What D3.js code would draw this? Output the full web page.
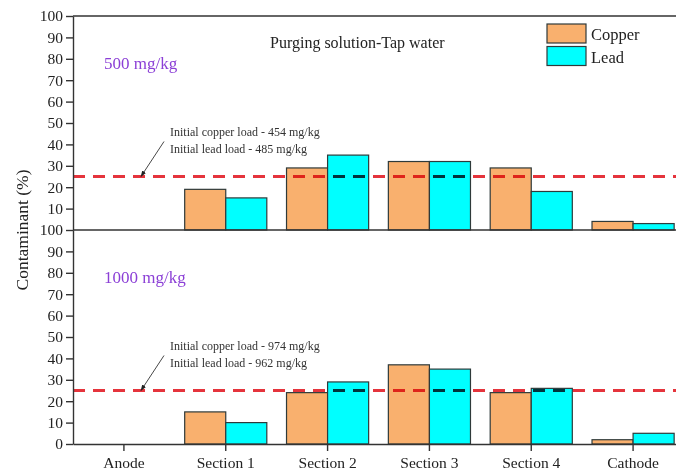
<!DOCTYPE html>
<html>
<head>
<meta charset="utf-8">
<script src="https://cdn.jsdelivr.net/npm/d3@7"></script>
<style>
  html, body { margin: 0; padding: 0; background: #fff; }
  svg { display: block; font-family: "Liberation Serif", "Times New Roman", serif; }
</style>
</head>
<body>
<svg id="chart" width="676" height="472"></svg>
<script>
// Sampling positions along the cell
const categories = ["Anode", "Section 1", "Section 2", "Section 3", "Section 4", "Cathode"];
const series = ["Copper", "Lead"];
const seriesColors = ["#f9b06e", "#00ffff"];

// Residual contaminant share (%) per position, 500 mg/kg soil
const copper500 = [0, 19, 29, 32, 29, 4];
const lead500   = [0, 15, 35, 32, 18, 3];
// Residual contaminant share (%) per position, 1000 mg/kg soil
const copper1000 = [0, 15, 24, 37, 24, 2];
const lead1000   = [0, 10, 29, 35, 26, 5];

const referenceLevel = 25;
const yTicksTop = [10, 20, 30, 40, 50, 60, 70, 80, 90, 100];
const yTicksBottom = [0, 10, 20, 30, 40, 50, 60, 70, 80, 90, 100];

const panels = [
  { label: "500 mg/kg", copper: copper500, lead: lead500,
    note: ["Initial copper load - 454 mg/kg", "Initial lead load - 485 mg/kg"],
    range: [230, 16], ticks: yTicksTop },
  { label: "1000 mg/kg", copper: copper1000, lead: lead1000,
    note: ["Initial copper load - 974 mg/kg", "Initial lead load - 962 mg/kg"],
    range: [444, 230], ticks: yTicksBottom }
];

const svg = d3.select("#chart");
const left = 73, right = 684;
const axisColor = "#333";

const x = d3.scaleBand().domain(categories).range([left, right]).padding(0);
const xSub = d3.scaleBand().domain(series).range([0, x.bandwidth()])
  .paddingInner(0).paddingOuter(0.24);

svg.append("defs").append("marker")
  .attr("id", "arrowhead")
  .attr("viewBox", "0 0 10 10")
  .attr("refX", 9).attr("refY", 5)
  .attr("markerWidth", 7).attr("markerHeight", 7)
  .attr("orient", "auto-start-reverse")
  .append("path").attr("d", "M0,1.5 L10,5 L0,8.5 Z").attr("fill", "#222");

panels.forEach((p) => {
  const y = d3.scaleLinear().domain([0, 100]).range(p.range);
  const g = svg.append("g");

  // bars
  const rows = categories.map((c, i) => ({ cat: c, values: [p.copper[i], p.lead[i]] }));
  g.selectAll("g.cat").data(rows).join("g")
    .attr("class", "cat")
    .attr("transform", d => `translate(${x(d.cat)},0)`)
    .selectAll("rect")
    .data(d => d.values.map((v, k) => ({ key: series[k], value: v, color: seriesColors[k] })))
    .join("rect")
    .filter(d => d.value > 0)
    .attr("x", d => xSub(d.key))
    .attr("width", xSub.bandwidth())
    .attr("y", d => y(d.value))
    .attr("height", d => y(0) - y(d.value))
    .attr("fill", d => d.color)
    .attr("stroke", "#2f3a3a")
    .attr("stroke-width", 1.2);

  // reference dashed line
  g.append("line")
    .attr("x1", left).attr("x2", right)
    .attr("y1", y(referenceLevel)).attr("y2", y(referenceLevel))
    .attr("stroke", "#e5343c")
    .attr("stroke-width", 3)
    .attr("stroke-dasharray", "12 8")
    .style("mix-blend-mode", "multiply");

  // y axis
  const axis = g.append("g")
    .attr("transform", `translate(${left},0)`)
    .call(d3.axisLeft(y).tickValues(p.ticks).tickSize(7).tickSizeOuter(0).tickPadding(3));
  axis.select(".domain").attr("stroke", axisColor).attr("stroke-width", 1.4);
  axis.selectAll(".tick line").attr("stroke", axisColor).attr("stroke-width", 1.4);
  axis.selectAll(".tick text")
    .attr("font-family", "Liberation Serif, serif")
    .attr("font-size", 15.5).attr("fill", "#222");

  // panel label
  g.append("text")
    .attr("x", 104).attr("y", y(100) + 53)
    .attr("font-size", 17).attr("fill", "#8b3fd6")
    .text(p.label);

  // initial-load annotation with arrow
  const yRef = y(referenceLevel);
  g.append("text")
    .attr("x", 170).attr("y", yRef - 41)
    .attr("font-size", 12).attr("fill", "#333")
    .selectAll("tspan").data(p.note).join("tspan")
    .attr("x", 170).attr("dy", (d, i) => i === 0 ? 0 : 17)
    .text(d => d);
  g.append("line")
    .attr("x1", 164).attr("y1", yRef - 35)
    .attr("x2", 141).attr("y2", yRef)
    .attr("stroke", "#333").attr("stroke-width", 0.9)
    .attr("marker-end", "url(#arrowhead)");
});

// frame lines: top, divider, right
svg.append("line").attr("x1", left).attr("x2", right).attr("y1", 16).attr("y2", 16)
  .attr("stroke", axisColor).attr("stroke-width", 1.4);
svg.append("line").attr("x1", left).attr("x2", right).attr("y1", 230).attr("y2", 230)
  .attr("stroke", axisColor).attr("stroke-width", 1.4);
svg.append("line").attr("x1", right).attr("x2", right).attr("y1", 16).attr("y2", 444)
  .attr("stroke", axisColor).attr("stroke-width", 1.4);

// x axis
const xAxis = svg.append("g")
  .attr("transform", "translate(0,444)")
  .call(d3.axisBottom(x).tickSize(7).tickSizeOuter(0).tickPadding(6));
xAxis.select(".domain").attr("stroke", axisColor).attr("stroke-width", 1.4);
xAxis.selectAll(".tick line").attr("stroke", axisColor).attr("stroke-width", 1.4);
xAxis.selectAll(".tick text")
  .attr("font-family", "Liberation Serif, serif")
  .attr("font-size", 15.5).attr("fill", "#222");

// y axis title
svg.append("text")
  .attr("transform", "translate(28,230) rotate(-90)")
  .attr("text-anchor", "middle")
  .attr("font-size", 17.5).attr("fill", "#222")
  .text("Contaminant (%)");

// title
svg.append("text")
  .attr("x", 270).attr("y", 48)
  .attr("font-size", 16).attr("fill", "#222")
  .text("Purging solution-Tap water");

// legend
const legend = svg.append("g").attr("transform", "translate(547,24)");
series.forEach((s, i) => {
  legend.append("rect")
    .attr("x", 0).attr("y", i * 22.5)
    .attr("width", 39).attr("height", 19)
    .attr("fill", seriesColors[i])
    .attr("stroke", "#2f3a3a").attr("stroke-width", 1.2);
  legend.append("text")
    .attr("x", 44).attr("y", i * 22.5 + 16)
    .attr("font-size", 16.5).attr("fill", "#222")
    .text(s);
});
</script>
</body>
</html>
